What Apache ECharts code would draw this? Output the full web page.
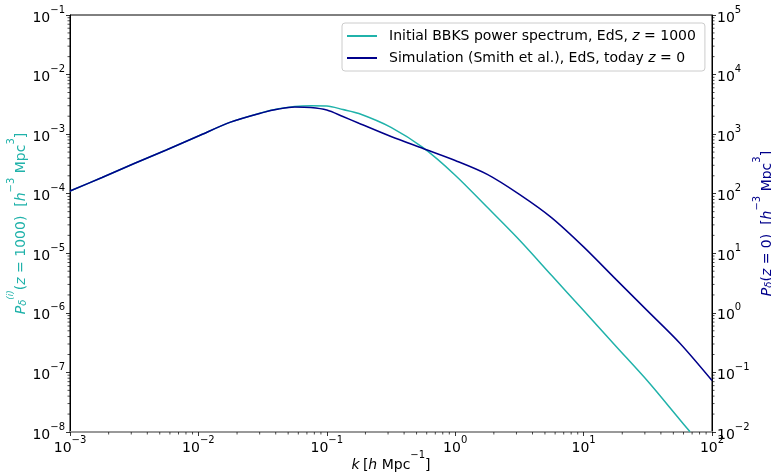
<!DOCTYPE html>
<html>
<head>
<meta charset="utf-8">
<script src="https://cdn.jsdelivr.net/npm/echarts@6/dist/echarts.min.js"></script>
<style>html,body{margin:0;padding:0;background:#fff;}#c{width:771px;height:473px;}</style>
</head>
<body>
<div id="c"></div>
<script>
// wavenumbers k [h/Mpc]
const kValues = [0.001, 0.001778, 0.003162, 0.005623, 0.01, 0.01778, 0.03162, 0.0422, 0.05623, 0.075, 0.1, 0.1334, 0.1778, 0.3162, 0.5623, 1, 1.778, 3.162, 5.623, 10, 17.78, 31.62, 56.23, 100];
// Simulation (Smith et al.), EdS, z=0 (right axis)
const pToday = [111.0, 187.1, 321.4, 541.8, 930.6, 1590, 2299, 2642, 2855, 2800, 2542, 1977, 1526, 913, 574, 361, 211, 97.4, 39.7, 12.80, 3.686, 1.070, 0.3094, 0.0732];
// Initial BBKS power spectrum, EdS, z=1000 (left axis)
const kInitial = [0.001, 0.001778, 0.003162, 0.005623, 0.01, 0.01778, 0.03162, 0.0422, 0.05623, 0.075, 0.1, 0.1334, 0.1778, 0.3162, 0.5623, 1, 1.778, 3.162, 5.623, 10, 17.78, 31.62, 56.23, 67.45];
const pInitial = [1.110e-4, 1.871e-4, 3.214e-4, 5.418e-4, 9.306e-4, 1.59e-3, 2.317e-3, 2.662e-3, 2.911e-3, 2.991e-3, 2.968e-3, 2.592e-3, 2.221e-3, 1.302e-3, 5.92e-4, 2.045e-4, 5.91e-5, 1.671e-5, 4.27e-6, 1.091e-6, 2.777e-7, 7.10e-8, 1.609e-8, 1.01e-8];

const xExtent = [1e-3, 1e2];
const yLeftExtent = [1e-8, 1e-1];
const yRightExtent = [1e-2, 1e5];
const minorMultipliers = [2, 3, 4, 5, 6, 7, 8, 9];

const nameInitial = 'Initial BBKS power spectrum, EdS, z = 1000';
const nameToday = 'Simulation (Smith et al.), EdS, today z = 0';

const FONT = 'DejaVu Sans';
const CYAN = '#20b2aa';
const NAVY = '#00008b';

function decades(lo, hi) {
  const out = [];
  for (let e = Math.round(Math.log10(lo)); e < Math.round(Math.log10(hi)); e++) {
    for (const m of minorMultipliers) out.push(m * Math.pow(10, e));
  }
  return out;
}
const xMinor = decades(xExtent[0], xExtent[1]).map(v => [v, yLeftExtent[0]]);
const yLeftMinor = decades(yLeftExtent[0], yLeftExtent[1]).map(v => [xExtent[0], v]);
const yRightMinor = decades(yRightExtent[0], yRightExtent[1]).map(v => [xExtent[1], v]);

function pow10Label(v) {
  const e = Math.round(Math.log10(v));
  const s = (e < 0 ? '\u2212' : '') + Math.abs(e);
  return '{b|10}{s|' + s + '}';
}
const tickRich = {
  b: {fontSize: 14, fontFamily: FONT, color: '#000', lineHeight: 20, verticalAlign: 'bottom'},
  s: {fontSize: 10, fontFamily: FONT, color: '#000', lineHeight: 13, verticalAlign: 'top'}
};

function minorSeries(data, yAxisIndex, dir) {
  return {
    type: 'custom', xAxisIndex: 0, yAxisIndex: yAxisIndex, silent: true, clip: false,
    data: data, z: 5,
    renderItem: function (params, api) {
      const p = api.coord([api.value(0), api.value(1)]);
      let shape;
      if (dir === 'down') shape = {x1: p[0], y1: p[1], x2: p[0], y2: p[1] + 2.5};
      else if (dir === 'left') shape = {x1: p[0] - 2.5, y1: p[1], x2: p[0], y2: p[1]};
      else shape = {x1: p[0], y1: p[1], x2: p[0] + 2.5, y2: p[1]};
      return {type: 'line', shape: shape, style: {stroke: '#000', lineWidth: 0.7}};
    }
  };
}

function nameRich(color) {
  return {
    n: {fontSize: 14, fontFamily: FONT, color: color, lineHeight: 22, verticalAlign: 'bottom'},
    i: {fontSize: 14, fontFamily: FONT, fontStyle: 'italic', color: color, lineHeight: 22, verticalAlign: 'bottom'},
    sup: {fontSize: 10, fontFamily: FONT, color: color, lineHeight: 14, verticalAlign: 'top'},
    supi: {fontSize: 9, fontFamily: FONT, fontStyle: 'italic', color: color, lineHeight: 12, verticalAlign: 'top'},
    sub: {fontSize: 10, fontFamily: FONT, fontStyle: 'italic', color: color, lineHeight: 10, verticalAlign: 'bottom'}
  };
}

const chart = echarts.init(document.getElementById('c'), null, {renderer: 'canvas'});
chart.setOption({
  animation: false,
  backgroundColor: '#fff',
  grid: {left: 70, right: 59, top: 15, bottom: 41, show: true, borderColor: '#000', borderWidth: 1,
         backgroundColor: 'transparent', containLabel: false, outerBoundsMode: 'none'},
  legend: {
    data: [nameInitial, nameToday],
    orient: 'vertical', left: 342, top: 23,
    padding: [6, 9, 6, 5], itemGap: 8,
    itemWidth: 30, itemHeight: 2, icon: 'rect',
    backgroundColor: 'rgba(255,255,255,0.85)', borderColor: '#cccccc', borderWidth: 1, borderRadius: 3,
    formatter: function (name) {
      if (name === nameInitial) return 'Initial BBKS power spectrum, EdS, {i|z} = 1000';
      return 'Simulation (Smith et al.), EdS, today {i|z} = 0';
    },
    textStyle: {
      fontSize: 14, fontFamily: FONT, color: '#000', padding: [0, 0, 0, 7],
      rich: {i: {fontSize: 14, fontFamily: FONT, fontStyle: 'italic', color: '#000'}}
    }
  },
  xAxis: {
    type: 'log', logBase: 10, min: xExtent[0], max: xExtent[1],
    axisLine: {show: true, lineStyle: {color: '#999', width: 2}},
    axisTick: {show: true, length: 4, lineStyle: {color: '#000', width: 0.8}},
    splitLine: {show: false},
    axisLabel: {margin: 3, formatter: pow10Label, rich: tickRich, showMinLabel: true, showMaxLabel: true},
    name: '{i|k} {n|[}{i|h}{n| Mpc}{sup|\u22121}{n|]}',
    nameLocation: 'middle', nameGap: 18, nameMoveOverlap: false,
    nameTextStyle: {rich: nameRich('#000')}
  },
  yAxis: [{
    type: 'log', logBase: 10, min: yLeftExtent[0], max: yLeftExtent[1], position: 'left',
    axisLine: {show: true, lineStyle: {color: '#000', width: 1}},
    axisTick: {show: true, length: 4, lineStyle: {color: '#000', width: 0.8}},
    splitLine: {show: false},
    axisLabel: {margin: 5, formatter: pow10Label, rich: tickRich, showMinLabel: true, showMaxLabel: true},
    name: '{i|P}{sub|\u03b4}{supi|(i)}{n|(}{i|z}{n| = 1000)  [}{i|h}{sup|\u22123}{n| Mpc}{sup|3}{n|]}',
    nameLocation: 'middle', nameRotate: 90, nameGap: 42, nameMoveOverlap: false,
    nameTextStyle: {rich: nameRich(CYAN)}
  }, {
    type: 'log', logBase: 10, min: yRightExtent[0], max: yRightExtent[1], position: 'right',
    axisLine: {show: true, lineStyle: {color: '#000', width: 1}},
    axisTick: {show: true, length: 4, lineStyle: {color: '#000', width: 0.8}},
    splitLine: {show: false},
    axisLabel: {margin: 5, formatter: pow10Label, rich: tickRich, showMinLabel: true, showMaxLabel: true},
    name: '{i|P}{sub|\u03b4}{n|(}{i|z}{n| = 0)  [}{i|h}{sup|\u22123}{n| Mpc}{sup|3}{n|]}',
    nameLocation: 'middle', nameRotate: 90, nameGap: 40, nameMoveOverlap: false,
    nameTextStyle: {rich: nameRich(NAVY)}
  }],
  series: [{
    name: nameInitial, type: 'line', xAxisIndex: 0, yAxisIndex: 0,
    data: kInitial.map((k, i) => [k, pInitial[i]]),
    showSymbol: false, symbol: 'none', smooth: 0.3, color: CYAN,
    lineStyle: {color: CYAN, width: 1.5}, z: 3
  }, {
    name: nameToday, type: 'line', xAxisIndex: 0, yAxisIndex: 1,
    data: kValues.map((k, i) => [k, pToday[i]]),
    showSymbol: false, symbol: 'none', smooth: 0.3, color: NAVY,
    lineStyle: {color: NAVY, width: 1.5}, z: 4
  },
  minorSeries(xMinor, 0, 'down'),
  minorSeries(yLeftMinor, 0, 'left'),
  minorSeries(yRightMinor, 1, 'right')
  ]
});
</script>
</body>
</html>
